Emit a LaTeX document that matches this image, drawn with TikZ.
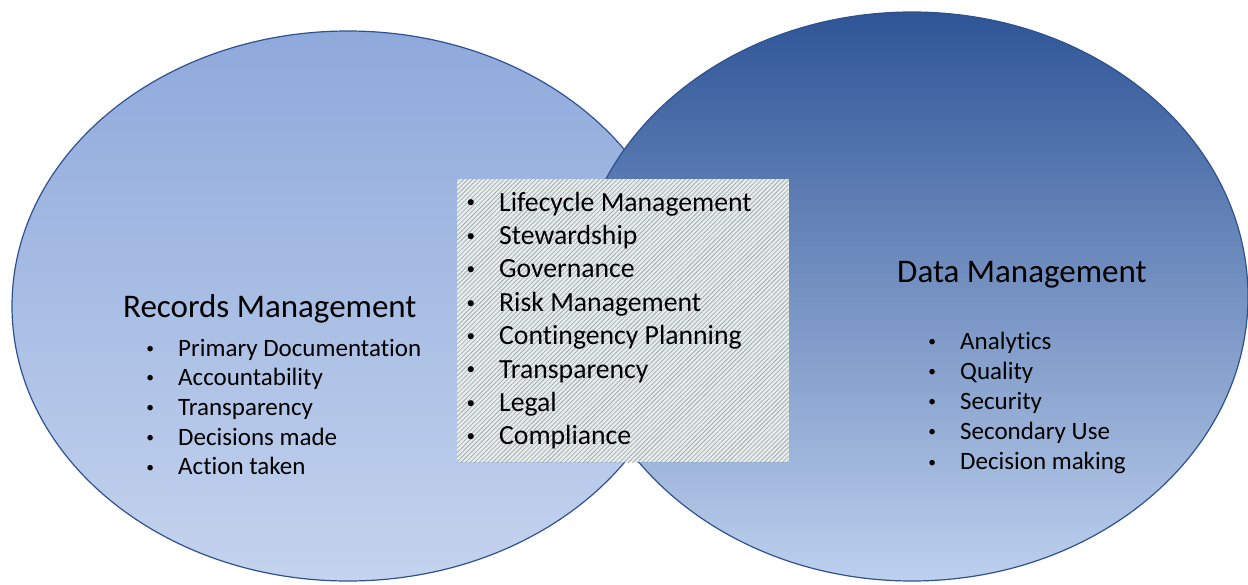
\documentclass[tikz,border=0pt]{standalone}
\usepackage{fontspec}
\setmainfont{Carlito}[Ligatures={NoCommon}]
\usepackage{graphicx}
\usetikzlibrary{shapes.geometric,patterns.meta}
\definecolor{ringline}{HTML}{2F528F}
\definecolor{ltop}{HTML}{8EA9DB}
\definecolor{lbot}{HTML}{C4D3EE}
\definecolor{rtop}{HTML}{2F5597}
\definecolor{rbot}{HTML}{BDD0EE}
\definecolor{boxbg}{HTML}{E6ECEC}
\definecolor{hatch}{HTML}{9AA2A2}
\tikzset{
  ring/.style={ellipse, draw=ringline, line width=1.2pt, inner sep=0pt},
  heading/.style={anchor=base west, inner sep=0pt, font=\fontsize{33}{40}\selectfont},
  sideitem/.style={anchor=base west, inner sep=0pt, font=\fontsize{25}{30}\selectfont},
  miditem/.style={anchor=base west, inner sep=0pt, font=\fontsize{27.7}{33}\selectfont},
  sharebox/.style={rectangle, inner sep=0pt, fill=boxbg,
    postaction={pattern={Lines[angle=45,distance=3.2pt,line width=0.6pt]}, pattern color=hatch}},
}
\newcommand{\bul}{\llap{\raisebox{0.11em}{\scalebox{0.62}{\textbullet}}\hspace{24pt}}}
\begin{document}
\begin{tikzpicture}[x=1pt,y=-1pt]
\useasboundingbox (0,0) rectangle (1248,584);
\node[ring, minimum width=672pt, minimum height=550pt, top color=ltop, bottom color=lbot] (records) at (348,306) {};
\node[ring, minimum width=672pt, minimum height=569pt, top color=rtop, bottom color=rbot] (data) at (912,296.5) {};
\node[sharebox, minimum width=332pt, minimum height=283pt] (shared) at (623,320.5) {};

\node[heading] (rmhead) at (123,317) {Records Management};
\foreach \t [count=\i] in {Primary Documentation, Accountability, Transparency, Decisions made, Action taken}
  \node[sideitem] (rm\i) at (178,{356+29.7*(\i-1)}) {\bul\t};

\node[heading] (dmhead) at (897,282) {Data Management};
\foreach \t [count=\i] in {Analytics, Quality, Security, Secondary Use, Decision making}
  \node[sideitem] (dm\i) at (960,{349+30.2*(\i-1)}) {\bul\t};

\foreach \t [count=\i] in {Lifecycle Management, Stewardship, Governance, Risk Management, Contingency Planning, Transparency, Legal, Compliance}
  \node[miditem] (sh\i) at (499,{211+33.4*(\i-1)}) {\bul\t};
\end{tikzpicture}
\end{document}
